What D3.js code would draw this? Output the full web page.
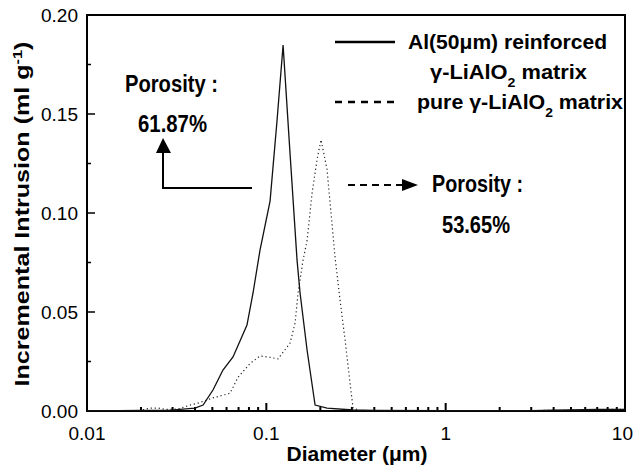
<!DOCTYPE html>
<html>
<head>
<meta charset="utf-8">
<script src="https://cdn.jsdelivr.net/npm/d3@7"></script>
<style>
  body { margin: 0; background: #fff; }
  text { font-family: Arial, "Liberation Sans", sans-serif; }
</style>
</head>
<body>
<script>
// Al(50um) reinforced gamma-LiAlO2 matrix, solid line
const solidD = [0.01, 0.015, 0.02, 0.0283, 0.040, 0.0444, 0.0504, 0.0573, 0.0652, 0.078, 0.0843, 0.0922,
  0.1049, 0.1148, 0.124, 0.1356, 0.1483, 0.1542, 0.1687, 0.187, 0.218, 0.3045, 0.4, 1, 2, 3, 4, 5, 7, 10]
const solidV = [0.0002, 0.0002, 0.0003, 0.0003, 0.0015, 0.003, 0.0106, 0.0207, 0.0273, 0.0434, 0.0596, 0.0813,
  0.106, 0.147, 0.1848, 0.130, 0.0763, 0.0596, 0.0308, 0.003, 0.0015, 0.0005, 0.0003, 0.0002, 0.0002, 0.0002, 0.0004, 0.0006, 0.0008, 0.0008]
// pure gamma-LiAlO2 matrix, dotted line
const dotD = [0.01, 0.0118, 0.0198, 0.0225, 0.0249, 0.0272, 0.0322, 0.0375, 0.0416, 0.0504, 0.0628, 0.0695,
  0.0811, 0.0922, 0.1021, 0.1162, 0.1356, 0.1446, 0.1503, 0.1603, 0.1687, 0.1799, 0.1918, 0.2018, 0.218,
  0.2416, 0.2576, 0.2748, 0.2929, 0.3045, 0.3333, 1, 3, 6, 8, 10]
const dotV = [0.0002, 0.0002, 0.0002, 0.0015, 0.0015, 0.0008, 0.001, 0.003, 0.004, 0.0066, 0.009, 0.017,
  0.024, 0.0278, 0.0273, 0.0263, 0.0343, 0.0444, 0.0596, 0.0763, 0.086, 0.110, 0.127, 0.137, 0.122,
  0.0778, 0.056, 0.0359, 0.0141, 0.0015, 0.0002, 0.0002, 0.0002, 0.0005, 0.0008, 0.0008]

const xTicks = [0.01, 0.1, 1, 10]
const xTickLabels = ['0.01', '0.1', '1', '10']
const yTicks = [0, 0.05, 0.10, 0.15, 0.20]
const yTickLabels = ['0.00', '0.05', '0.10', '0.15', '0.20']

const W = 634, H = 468
const m = {l: 87, r: 9, t: 15, b: 57}

const svg = d3.select('body').append('svg')
              .attr('width', W)
              .attr('height', H)

const x = d3.scaleLog().domain([0.01, 10]).range([m.l, W - m.r])
const y = d3.scaleLinear().domain([0, 0.2]).range([H - m.b, m.t])

// minor ticks
let minorX = []
;[0.01, 0.1, 1].forEach(dec => {
  for (let k = 2; k <= 9; k++) minorX.push(dec * k)
})
const minorY = [0.025, 0.075, 0.125, 0.175]

const g = svg.append('g')

g.selectAll('.mx').data(minorX).enter().append('line')
  .attr('x1', d => x(d)).attr('x2', d => x(d))
  .attr('y1', y(0)).attr('y2', y(0) - 4)
  .attr('stroke', '#000').attr('stroke-width', 2)
g.selectAll('.Mx').data(xTicks).enter().append('line')
  .attr('x1', d => x(d)).attr('x2', d => x(d))
  .attr('y1', y(0)).attr('y2', y(0) - 8)
  .attr('stroke', '#000').attr('stroke-width', 2)
g.selectAll('.my').data(minorY).enter().append('line')
  .attr('x1', x(0.01)).attr('x2', x(0.01) + 4)
  .attr('y1', d => y(d)).attr('y2', d => y(d))
  .attr('stroke', '#000').attr('stroke-width', 1.5)
g.selectAll('.My').data(yTicks).enter().append('line')
  .attr('x1', x(0.01)).attr('x2', x(0.01) + 8)
  .attr('y1', d => y(d)).attr('y2', d => y(d))
  .attr('stroke', '#000').attr('stroke-width', 1.5)

// frame
g.append('rect')
  .attr('x', m.l).attr('y', m.t)
  .attr('width', W - m.l - m.r).attr('height', H - m.t - m.b)
  .attr('fill', 'none').attr('stroke', '#000').attr('stroke-width', 2)

// tick labels (last one kept inside the window)
g.selectAll('.xl').data(xTicks).enter().append('text')
  .attr('x', (d, i) => i === xTicks.length - 1 ? W - 1 : x(d))
  .attr('y', y(0) + 29)
  .attr('text-anchor', (d, i) => i === xTicks.length - 1 ? 'end' : 'middle')
  .style('font-size', '19px')
  .text((d, i) => xTickLabels[i])
g.selectAll('.yl').data(yTicks).enter().append('text')
  .attr('x', m.l - 9).attr('y', d => y(d) + 7)
  .attr('text-anchor', 'end')
  .style('font-size', '19px')
  .text((d, i) => yTickLabels[i])

// axis titles
svg.append('text')
  .attr('x', 357).attr('y', 461)
  .attr('text-anchor', 'middle')
  .attr('textLength', 141).attr('lengthAdjust', 'spacingAndGlyphs')
  .style('font-size', '20px').style('font-weight', 'bold')
  .text('Diameter (μm)')
const yt = svg.append('text')
  .attr('transform', 'translate(29,214) rotate(-90)')
  .attr('text-anchor', 'middle')
  .attr('textLength', 345).attr('lengthAdjust', 'spacingAndGlyphs')
  .style('font-size', '20px').style('font-weight', 'bold')
yt.append('tspan').text('Incremental Intrusion (ml g')
yt.append('tspan').attr('baseline-shift', 'super').style('font-size', '13px').text('-1')
yt.append('tspan').text(')')

// curves
const line = d3.line().x(d => x(d[0])).y(d => y(d[1]))
svg.append('path')
  .datum(dotD.map((d, i) => [d, dotV[i]]))
  .attr('d', line)
  .attr('fill', 'none').attr('stroke', '#222').attr('stroke-width', 1.2)
  .attr('stroke-dasharray', '1.2,2.8')
svg.append('path')
  .datum(solidD.map((d, i) => [d, solidV[i]]))
  .attr('d', line)
  .attr('fill', 'none').attr('stroke', '#111').attr('stroke-width', 1.3)

// legend
svg.append('line').attr('x1', 335).attr('x2', 395).attr('y1', 42).attr('y2', 42)
  .attr('stroke', '#000').attr('stroke-width', 2.5)
svg.append('line').attr('x1', 335).attr('x2', 395).attr('y1', 102).attr('y2', 102)
  .attr('stroke', '#000').attr('stroke-width', 2.5).attr('stroke-dasharray', '7,6')
const legText = [
  {x: 408, y: 49, w: 199, parts: [['Al(50μm) reinforced']]},
  {x: 430, y: 79, w: 157, parts: [['γ-LiAlO'], ['2', 'sub'], [' matrix']]},
  {x: 417, y: 109, w: 206, parts: [['pure γ-LiAlO'], ['2', 'sub'], [' matrix']]}
]
legText.forEach(t => {
  const tx = svg.append('text').attr('x', t.x).attr('y', t.y)
    .attr('textLength', t.w).attr('lengthAdjust', 'spacingAndGlyphs')
    .style('font-size', '20px').style('font-weight', 'bold')
  t.parts.forEach(p => {
    const s = tx.append('tspan').text(p[0])
    if (p[1] === 'sub') s.attr('baseline-shift', 'sub').style('font-size', '13px')
  })
})

// porosity annotations
function cond(txt, x0, y0, w) {
  svg.append('text')
    .attr('x', x0).attr('y', y0)
    .attr('textLength', w).attr('lengthAdjust', 'spacingAndGlyphs')
    .style('font-size', '23px').style('font-weight', 'bold')
    .style('font-family', '"Liberation Sans Narrow", Arial, sans-serif')
    .text(txt)
}
cond('Porosity :', 125, 92, 93)
cond('61.87%', 138, 132, 69)
cond('Porosity :', 432, 192, 91)
cond('53.65%', 442, 233, 68)

// left arrow
svg.append('path')
  .attr('d', 'M252,188 H163 V150')
  .attr('fill', 'none').attr('stroke', '#000').attr('stroke-width', 2)
svg.append('path')
  .attr('d', 'M163,138 L156,153 L171,153 Z')
  .attr('fill', '#000')
// right dashed arrow
svg.append('line').attr('x1', 348).attr('x2', 403).attr('y1', 185).attr('y2', 185)
  .attr('stroke', '#000').attr('stroke-width', 2).attr('stroke-dasharray', '7,5')
svg.append('path')
  .attr('d', 'M418,185 L402,179 L402,191 Z')
  .attr('fill', '#000')
</script>
</body>
</html>
